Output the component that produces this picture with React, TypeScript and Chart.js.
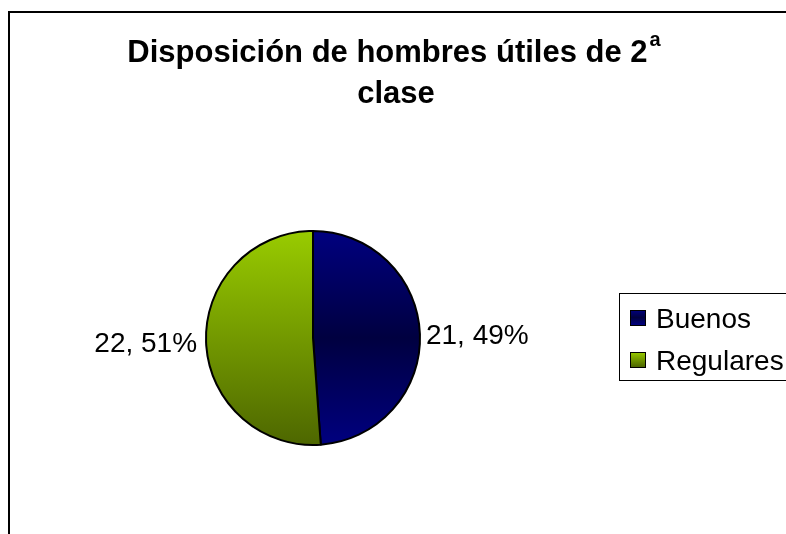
import React, { useEffect, useRef } from "react";
import { Chart, registerables } from "chart.js";

Chart.register(...registerables);

const titleLine1 = "Disposición de hombres útiles de 2";
const titleSup = "a";
const titleLine2 = "clase";
const categories = ["Buenos", "Regulares"];
const values = [21, 22];
const percents = ["49%", "51%"];

const W = 786;
const H = 534;
const FONT = "'Liberation Sans', Arial, sans-serif";

function makeFill(ctx: CanvasRenderingContext2D, top: number, bottom: number, idx: number) {
  const g = ctx.createLinearGradient(0, top, 0, bottom);
  if (idx === 0) {
    g.addColorStop(0, "#000080");
    g.addColorStop(0.5, "#000040");
    g.addColorStop(1, "#000080");
  } else {
    g.addColorStop(0, "#99cc00");
    g.addColorStop(1, "#4d6600");
  }
  return g;
}

const decorPlugin = {
  id: "decor",
  beforeDraw(chart: any) {
    const ctx = chart.ctx as CanvasRenderingContext2D;
    ctx.save();
    ctx.fillStyle = "#ffffff";
    ctx.fillRect(0, 0, W, H);
    ctx.strokeStyle = "#000000";
    ctx.lineWidth = 2;
    ctx.strokeRect(9, 12, W + 20, H + 20);
    ctx.restore();
  },
  afterDraw(chart: any) {
    const ctx = chart.ctx as CanvasRenderingContext2D;
    ctx.save();
    // Title
    ctx.fillStyle = "#000000";
    ctx.textBaseline = "alphabetic";
    ctx.font = `bold 31px ${FONT}`;
    const w1 = ctx.measureText(titleLine1).width;
    ctx.font = `bold 20px ${FONT}`;
    const ws = ctx.measureText(titleSup).width;
    const cx = 394;
    const x1 = cx - (w1 + ws + 2) / 2;
    ctx.font = `bold 31px ${FONT}`;
    ctx.textAlign = "left";
    ctx.fillText(titleLine1, x1, 62);
    ctx.font = `bold 20px ${FONT}`;
    ctx.fillText(titleSup, x1 + w1 + 2, 46);
    ctx.font = `bold 31px ${FONT}`;
    ctx.textAlign = "center";
    ctx.fillText(titleLine2, 396, 103);

    // Data labels
    const meta = chart.getDatasetMeta(0);
    ctx.font = `28px ${FONT}`;
    meta.data.forEach((arc: any, i: number) => {
      const mid = (arc.startAngle + arc.endAngle) / 2;
      const right = Math.cos(mid) >= 0;
      const r = arc.outerRadius + (right ? 6 : 9);
      const x = arc.x + Math.cos(mid) * r;
      const y = arc.y + Math.sin(mid) * r;
      ctx.textAlign = right ? "left" : "right";
      ctx.textBaseline = "alphabetic";
      ctx.fillText(`${values[i]}, ${percents[i]}`, x, y + 10);
    });

    // Legend
    ctx.strokeStyle = "#000000";
    ctx.lineWidth = 1;
    ctx.strokeRect(619.5, 293.5, 200, 87);
    ctx.textAlign = "left";
    ctx.textBaseline = "alphabetic";
    categories.forEach((c, i) => {
      const base = 328 + i * 42;
      const s = 15;
      const sx = 630;
      const sy = base - 18;
      ctx.fillStyle = makeFill(ctx, sy, sy + s, i);
      ctx.fillRect(sx, sy, s, s);
      ctx.strokeStyle = "#000000";
      ctx.strokeRect(sx + 0.5, sy + 0.5, s, s);
      ctx.fillStyle = "#000000";
      ctx.font = `28px ${FONT}`;
      ctx.fillText(c, 656, base);
    });
    ctx.restore();
  },
};

export default function App() {
  const ref = useRef<HTMLCanvasElement>(null);
  useEffect(() => {
    if (!ref.current) return;
    const chart = new Chart(ref.current, {
      type: "pie",
      data: {
        labels: categories,
        datasets: [
          {
            data: values,
            backgroundColor: (c: any) => {
              const area = c.chart.chartArea;
              if (!area) return "#000080";
              return makeFill(c.chart.ctx, area.top, area.bottom, c.dataIndex);
            },
            borderColor: "#000000",
            borderWidth: 2,
          },
        ],
      },
      options: {
        responsive: false,
        animation: false,
        layout: { padding: { left: 205, right: 365, top: 230, bottom: 88 } },
        plugins: {
          legend: { display: false },
          tooltip: { enabled: false },
          title: { display: false },
        },
      },
      plugins: [decorPlugin],
    });
    return () => chart.destroy();
  }, []);
  return (
    <div style={{ position: "fixed", left: 0, top: 0, width: W, height: H }}>
      <canvas ref={ref} width={W} height={H} style={{ width: W, height: H }} />
    </div>
  );
}
